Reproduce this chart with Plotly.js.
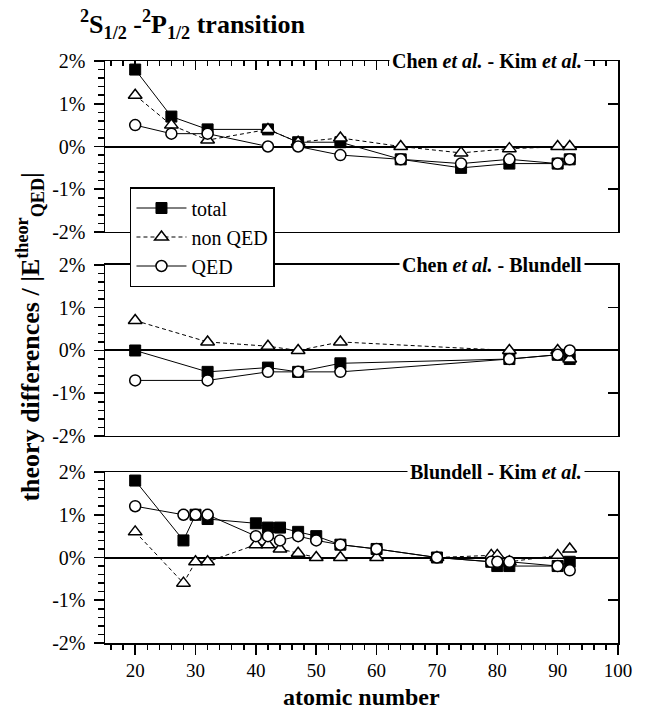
<!DOCTYPE html>
<html>
<head>
<meta charset="utf-8">
<script src="https://cdn.plot.ly/plotly-3.0.1.min.js"></script>
<style>html,body{margin:0;padding:0;background:#fff;}#chart{width:647px;height:711px;}</style>
</head>
<body>
<div id="chart"></div>
<script>
// ---- data ----
const seriesNames = ['total', 'non QED', 'QED'];
const panelLabels = [
  '<b>Chen <i>et al.</i> - Kim <i>et al.</i></b>',
  '<b>Chen <i>et al.</i> - Blundell</b>',
  '<b>Blundell - Kim <i>et al.</i></b>'
];
// top panel: Chen et al. - Kim et al.
const topZ      = [20, 26, 32, 42, 47, 54, 64, 74, 82, 90, 92];
const topTotal  = [1.8, 0.7, 0.4, 0.4, 0.1, 0.1, -0.3, -0.5, -0.4, -0.4, -0.3];
const topNonQED = [1.2, 0.5, 0.15, 0.4, 0.1, 0.2, 0.0, -0.15, -0.05, 0.0, 0.0];
const topQED    = [0.5, 0.3, 0.3, 0.0, 0.0, -0.2, -0.3, -0.4, -0.3, -0.4, -0.3];
// middle panel: Chen et al. - Blundell
const midZ      = [20, 32, 42, 47, 54, 82, 90, 92];
const midTotal  = [0.0, -0.5, -0.4, -0.5, -0.3, -0.2, -0.1, -0.2];
const midNonQED = [0.7, 0.2, 0.1, 0.0, 0.2, 0.0, 0.0, -0.2];
const midQED    = [-0.7, -0.7, -0.5, -0.5, -0.5, -0.2, -0.1, 0.0];
// bottom panel: Blundell - Kim et al.
const botZ      = [20, 28, 30, 32, 40, 42, 44, 47, 50, 54, 60, 70, 79, 80, 82, 90, 92];
const botTotal  = [1.8, 0.4, 1.0, 0.9, 0.8, 0.7, 0.7, 0.6, 0.5, 0.3, 0.2, 0.0, -0.1, -0.2, -0.2, -0.2, -0.1];
const botNonQED = [0.6, -0.6, -0.1, -0.1, 0.3, 0.3, 0.2, 0.1, 0.0, 0.0, 0.0, 0.0, 0.05, 0.05, -0.1, 0.05, 0.2];
const botQED    = [1.2, 1.0, 1.0, 1.0, 0.5, 0.5, 0.4, 0.5, 0.4, 0.3, 0.2, 0.0, -0.1, -0.1, -0.1, -0.2, -0.3];
const yTickVals = [-2, -1, 0, 1, 2];
const yTickText = ['-2%', '-1%', '0%', '1%', '2%'];
const xTickVals = [20, 30, 40, 50, 60, 70, 80, 90, 100];
const xTickText = ['20', '30', '40', '50', '60', '70', '80', '90', '100'];

// ---- styling ----
const FONT = 'Liberation Serif';
const X_RANGE = [15, 100];
const Y_RANGE = [-2, 2];
const LW = 1.5;

function panel(z, tot, nq, qed, xa, ya, showLeg) {
  return [
    {x: z, y: tot, xaxis: xa, yaxis: ya, name: seriesNames[0], mode: 'lines+markers',
     showlegend: showLeg, legendgroup: 'g1',
     line: {color: 'black', width: 1},
     marker: {symbol: 'square', size: 11, color: 'black', line: {color: 'black', width: 1}}},
    {x: z, y: nq, xaxis: xa, yaxis: ya, name: seriesNames[1], mode: 'lines+markers',
     showlegend: showLeg, legendgroup: 'g2',
     line: {color: 'black', width: 1, dash: '4px,3px'},
     marker: {symbol: 'triangle-up', size: 12, color: 'white', line: {color: 'black', width: 1.5}}},
    {x: z, y: qed, xaxis: xa, yaxis: ya, name: seriesNames[2], mode: 'lines+markers',
     showlegend: showLeg, legendgroup: 'g3',
     line: {color: 'black', width: 1},
     marker: {symbol: 'circle', size: 11, color: 'white', line: {color: 'black', width: 1.5}}}
  ];
}

const traces = [].concat(
  panel(topZ, topTotal, topNonQED, topQED, 'x3', 'y3', true),
  panel(midZ, midTotal, midNonQED, midQED, 'x2', 'y2', false),
  panel(botZ, botTotal, botNonQED, botQED, 'x', 'y', false),
  [
    {x: [null], y: [null], xaxis: 'x', yaxis: 'y4', showlegend: false, hoverinfo: 'skip'},
    {x: [null], y: [null], xaxis: 'x2', yaxis: 'y5', showlegend: false, hoverinfo: 'skip'},
    {x: [null], y: [null], xaxis: 'x3', yaxis: 'y6', showlegend: false, hoverinfo: 'skip'},
    {x: [null], y: [null], xaxis: 'x4', yaxis: 'y3', showlegend: false, hoverinfo: 'skip'}
  ]
);

const domBot = [0, 0.2938];
const domMid = [0.3557, 0.6495];
const domTop = [0.7062, 1];

function yAx(dom, anchor) {
  return {
    domain: dom, anchor: anchor, range: Y_RANGE, fixedrange: true,
    tickmode: 'array', tickvals: yTickVals, ticktext: yTickText,
    ticks: 'outside', ticklen: 10, tickwidth: LW, tickcolor: 'black',
    ticklabelstandoff: 4,
    minor: {tickmode: 'linear', tick0: 0, dtick: 0.2, ticks: 'outside', ticklen: 6, tickwidth: LW, tickcolor: 'black', showgrid: false},
    showline: true, linecolor: 'black', linewidth: LW, mirror: true,
    showgrid: false, zeroline: true, zerolinecolor: 'black', zerolinewidth: 2,
    tickfont: {family: FONT, size: 20, color: 'black'}
  };
}
function yRight(over, anchor) {
  return {
    overlaying: over, anchor: anchor, side: 'right', range: Y_RANGE, fixedrange: true,
    tickmode: 'array', tickvals: yTickVals, ticks: 'inside', ticklen: 10, tickwidth: LW, tickcolor: 'black',
    showticklabels: false, showline: false, showgrid: false, zeroline: false
  };
}
function xPlain(anchor) {
  return {
    anchor: anchor, domain: [0, 1], range: X_RANGE, fixedrange: true,
    showline: true, linecolor: 'black', linewidth: LW, mirror: true,
    ticks: '', showticklabels: false, showgrid: false, zeroline: false
  };
}

const layout = {
  width: 647, height: 711,
  margin: {l: 105, r: 29, t: 61, b: 68},
  paper_bgcolor: 'white', plot_bgcolor: 'white',
  font: {family: FONT, color: 'black'},
  title: {
    text: '<b><sup>2</sup>S<sub>1/2</sub> -<sup>2</sup>P<sub>1/2</sub> transition</b>',
    font: {family: FONT, size: 26, color: 'black'},
    xref: 'container', yref: 'container', x: 0.1236, xanchor: 'left', y: 0.966, yanchor: 'middle'
  },
  showlegend: true,
  legend: {
    x: 0.0487, y: 0.7835, xanchor: 'left', yanchor: 'top',
    bgcolor: 'white', bordercolor: 'black', borderwidth: 1.5,
    font: {family: FONT, size: 20, color: 'black'},
    tracegroupgap: 4, itemwidth: 50, traceorder: 'normal'
  },
  xaxis: {
    anchor: 'y', domain: [0, 1], range: X_RANGE, fixedrange: true,
    tickmode: 'array', tickvals: xTickVals, ticktext: xTickText,
    ticks: 'outside', ticklen: 10, tickwidth: LW, tickcolor: 'black',
    ticklabelstandoff: 0,
    minor: {tickmode: 'linear', tick0: 0, dtick: 2, ticks: 'outside', ticklen: 5, tickwidth: LW, tickcolor: 'black', showgrid: false},
    showline: true, linecolor: 'black', linewidth: LW, mirror: true,
    showgrid: false, zeroline: false,
    tickfont: {family: FONT, size: 19, color: 'black'}
  },
  xaxis2: xPlain('y2'),
  xaxis3: xPlain('y3'),
  xaxis4: {
    overlaying: 'x3', anchor: 'y3', side: 'top', range: X_RANGE, fixedrange: true,
    tickmode: 'array', tickvals: xTickVals, ticks: 'inside', ticklen: 9, tickwidth: LW, tickcolor: 'black',
    minor: {tickmode: 'linear', tick0: 0, dtick: 2, ticks: 'inside', ticklen: 5, tickwidth: LW, tickcolor: 'black', showgrid: false},
    showticklabels: false, showline: false, showgrid: false, zeroline: false
  },
  yaxis: yAx(domBot, 'x'),
  yaxis2: yAx(domMid, 'x2'),
  yaxis3: yAx(domTop, 'x3'),
  yaxis4: yRight('y', 'x'),
  yaxis5: yRight('y2', 'x2'),
  yaxis6: yRight('y3', 'x3'),
  annotations: [
    {text: panelLabels[0], xref: 'paper', yref: 'paper', x: 0.9357, y: domTop[1], xanchor: 'right', yanchor: 'middle',
     showarrow: false, bgcolor: 'white', borderpad: 2, font: {family: FONT, size: 20, color: 'black'}},
    {text: panelLabels[1], xref: 'paper', yref: 'paper', x: 0.9357, y: domMid[1], xanchor: 'right', yanchor: 'middle',
     showarrow: false, bgcolor: 'white', borderpad: 2, font: {family: FONT, size: 20, color: 'black'}},
    {text: panelLabels[2], xref: 'paper', yref: 'paper', x: 0.9357, y: domBot[1], xanchor: 'right', yanchor: 'middle',
     showarrow: false, bgcolor: 'white', borderpad: 2, font: {family: FONT, size: 20, color: 'black'}},
    {text: '<b>theory differences / |E<sup>theor</sup><sub>QED</sub>|</b>', xref: 'paper', yref: 'paper',
     x: -0.146, y: 0.525, xanchor: 'center', yanchor: 'middle', textangle: -90, showarrow: false,
     font: {family: FONT, size: 26, color: 'black'}},
    {text: '<b>atomic number</b>', xref: 'paper', yref: 'paper', x: 0.5, y: -0.092,
     xanchor: 'center', yanchor: 'middle', showarrow: false,
     font: {family: FONT, size: 24, color: 'black'}}
  ]
};

Plotly.newPlot('chart', traces, layout, {staticPlot: true, displayModeBar: false});
</script>
</body>
</html>
